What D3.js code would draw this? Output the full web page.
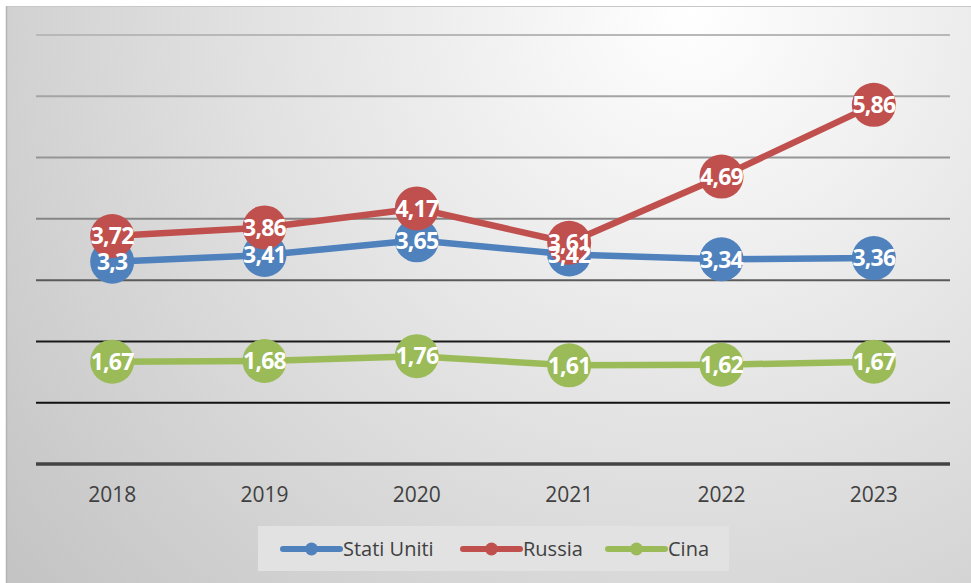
<!DOCTYPE html>
<html>
<head>
<meta charset="utf-8">
<script src="https://cdn.jsdelivr.net/npm/d3@7"></script>
<style>
  html, body { margin: 0; padding: 0; background: #ffffff; }
  svg { display: block; }
</style>
</head>
<body>
<svg id="chart" width="971" height="583"></svg>
<script>
const years = ["2018", "2019", "2020", "2021", "2022", "2023"];
const seriesNames = ["Stati Uniti", "Russia", "Cina"];
const statiUniti = [3.3, 3.41, 3.65, 3.42, 3.34, 3.36];
const russia = [3.72, 3.86, 4.17, 3.61, 4.69, 5.86];
const cina = [1.67, 1.68, 1.76, 1.61, 1.62, 1.67];
const yTicks = [0, 1, 2, 3, 4, 5, 6, 7];
const colors = ["#4F81BD", "#C0504D", "#9BBB59"];

const series = [
  { name: seriesNames[0], values: statiUniti, color: colors[0] },
  { name: seriesNames[1], values: russia, color: colors[1] },
  { name: seriesNames[2], values: cina, color: colors[2] }
];

const svg = d3.select("#chart");
const W = 971, H = 583;

// background gradient
const defs = svg.append("defs");
const rg = defs.append("radialGradient")
  .attr("id", "bg").attr("gradientUnits", "userSpaceOnUse")
  .attr("cx", 690).attr("cy", 10).attr("r", 880);
rg.append("stop").attr("offset", "0%").attr("stop-color", "#ffffff");
rg.append("stop").attr("offset", "100%").attr("stop-color", "#c4c4c4");

svg.append("rect").attr("x", 6).attr("y", 6).attr("width", W - 6).attr("height", H - 6)
  .attr("fill", "url(#bg)");
svg.append("line").attr("x1", 6).attr("x2", W).attr("y1", 6.5).attr("y2", 6.5)
  .attr("stroke", "#c8c8c8").attr("stroke-width", 1);
svg.append("line").attr("x1", 6.5).attr("x2", 6.5).attr("y1", 6).attr("y2", H)
  .attr("stroke", "#b4b4b4").attr("stroke-width", 1.5);

const left = 36, right = 950;
const x = d3.scaleBand().domain(years).range([left, right]);
const y = d3.scaleLinear().domain([0, 7]).range([464, 35]);

// gridlines
const gridColor = d3.scaleLinear().domain([7, 6, 5, 4, 3, 2, 1])
  .range(["#b8b8b8", "#a4a4a4", "#959595", "#858585", "#5a5a5a", "#1a1a1a", "#111111"]).clamp(true);
svg.append("g").selectAll("line").data(yTicks.filter(t => t > 0)).join("line")
  .attr("x1", left).attr("x2", right)
  .attr("y1", d => y(d)).attr("y2", d => y(d))
  .attr("stroke", d => gridColor(d)).attr("stroke-width", 2);

// baseline
svg.append("line").attr("x1", left).attr("x2", right)
  .attr("y1", y(0)).attr("y2", y(0))
  .attr("stroke", "#444444").attr("stroke-width", 3.5);

// x axis labels
const xAxis = d3.axisBottom(x).tickSize(0).tickPadding(0);
const gx = svg.append("g").attr("transform", `translate(0, ${y(0)})`).call(xAxis);
gx.select(".domain").remove();
gx.selectAll("text")
  .attr("dy", null)
  .attr("y", 38)
  .attr("font-family", "'Open Sans', sans-serif")
  .attr("font-size", 21)
  .attr("fill", "#404040");

const cx = d => x(d) + x.bandwidth() / 2;
const line = d3.line().x((d, i) => cx(years[i])).y(d => y(d));

// lines
series.forEach(s => {
  svg.append("path").datum(s.values)
    .attr("d", line)
    .attr("fill", "none")
    .attr("stroke", s.color)
    .attr("stroke-width", 6.5)
    .attr("stroke-linejoin", "round");
});
// markers
series.forEach(s => {
  svg.append("g").selectAll("circle").data(s.values).join("circle")
    .attr("cx", (d, i) => cx(years[i]))
    .attr("cy", d => y(d))
    .attr("r", 22)
    .attr("fill", s.color);
});
// labels
const fmt = v => String(v).replace(".", ",");
series.forEach(s => {
  svg.append("g").selectAll("text").data(s.values).join("text")
    .attr("x", (d, i) => cx(years[i]))
    .attr("y", d => y(d))
    .attr("dy", "0.36em")
    .attr("text-anchor", "middle")
    .attr("font-family", "'Open Sans', sans-serif")
    .attr("font-weight", 700)
    .attr("font-size", 23)
    .attr("letter-spacing", -0.8)
    .attr("fill", "#ffffff")
    .text(fmt);
});

// legend
const lg = svg.append("g");
lg.append("rect").attr("x", 258).attr("y", 526).attr("width", 471).attr("height", 45)
  .attr("fill", "#e2e2e2");
const legendX = [283, 463, 608];
series.forEach((s, i) => {
  const g = lg.append("g").attr("transform", `translate(${legendX[i]}, 549)`);
  g.append("line").attr("x1", 0).attr("x2", 57).attr("y1", 0).attr("y2", 0)
    .attr("stroke", s.color).attr("stroke-width", 6).attr("stroke-linecap", "round");
  g.append("circle").attr("cx", 28.5).attr("cy", 0).attr("r", 6.5).attr("fill", s.color);
  g.append("text").attr("x", 60).attr("y", 0).attr("dy", "0.36em")
    .attr("font-family", "'Open Sans', sans-serif").attr("font-size", 20)
    .attr("fill", "#404040").text(s.name);
});
</script>
</body>
</html>
